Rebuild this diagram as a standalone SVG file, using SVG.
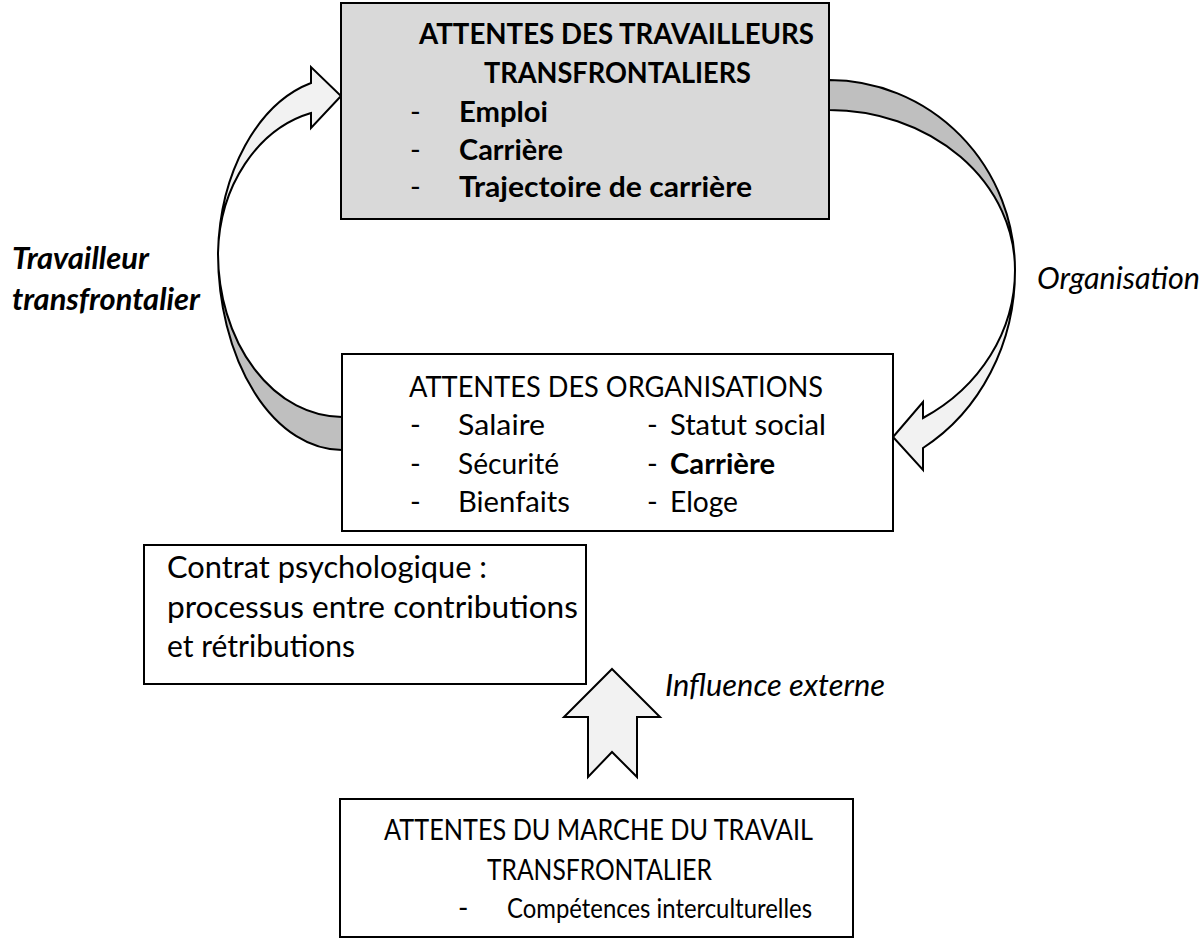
<svg xmlns="http://www.w3.org/2000/svg" width="1204" height="939" viewBox="0 0 1204 939">
<style>
.box{stroke:#000;stroke-width:2;fill:#fff}
.gray{fill:#d9d9d9}
.light{fill:#f2f2f2;stroke:#000;stroke-width:2;stroke-linejoin:miter}
.dark{fill:#bfbfbf;stroke:#000;stroke-width:2}
text{font-family:Lato,"Open Sans","Liberation Sans",sans-serif;fill:#000}
.t{font-size:29px;font-weight:bold}
.o{font-size:29px}
.c{font-size:31px}
.k{font-size:28px}
.lab{font-size:30px;font-style:italic}
.b{font-weight:bold}
</style>
<rect width="1204" height="939" fill="#fff"/>
<g id="connectors">
  <g id="arrow-travailleur">
    <path class="dark" d="M218,253 A124,197 0 0 0 342,450 L342,417 A124,164 0 0 1 218,253 Z"/>
    <path class="light" d="M218,253 A125,182 0 0 1 311,83 L311,67 L341,96 L311,128 L311,113 A122,148 0 0 0 218,253 Z"/>
  </g>
  <g id="arrow-organisation">
    <path class="dark" d="M829,80 A186,190 0 0 1 1015,270 A186,160 0 0 0 829,110 Z"/>
    <path class="light" d="M1015,270 A186,205 0 0 1 923,448 L923,470 L893,437 L923,402 L923,418 A186,171 0 0 0 1015,270 Z"/>
  </g>
  <g id="arrow-influence">
    <path class="light" d="M612,669 L660,717 L637,717 L637,777 L612,752 L588,777 L588,717 L564,717 Z"/>
  </g>
</g>
<g id="node-travailleurs" class="t">
  <rect class="box gray" x="341" y="3" width="488" height="216"/>
  <text x="419" y="44" textLength="395" lengthAdjust="spacingAndGlyphs">ATTENTES DES TRAVAILLEURS</text>
  <text x="484" y="83" textLength="267" lengthAdjust="spacingAndGlyphs">TRANSFRONTALIERS</text>
  <text x="410" y="122" font-weight="normal">-</text><text x="459" y="122" textLength="89" lengthAdjust="spacingAndGlyphs">Emploi</text>
  <text x="410" y="160" font-weight="normal">-</text><text x="459" y="160" textLength="104" lengthAdjust="spacingAndGlyphs">Carrière</text>
  <text x="410" y="197" font-weight="normal">-</text><text x="459" y="197" textLength="293" lengthAdjust="spacingAndGlyphs">Trajectoire de carrière</text>
</g>
<g id="node-organisations" class="o">
  <rect class="box" x="342" y="354" width="551" height="177"/>
  <text x="409" y="397" textLength="414" lengthAdjust="spacingAndGlyphs">ATTENTES DES ORGANISATIONS</text>
  <text x="410" y="435">-</text><text x="458" y="435" textLength="87" lengthAdjust="spacingAndGlyphs">Salaire</text>
  <text x="410" y="474">-</text><text x="458" y="474" textLength="101" lengthAdjust="spacingAndGlyphs">Sécurité</text>
  <text x="410" y="512">-</text><text x="458" y="512" textLength="112" lengthAdjust="spacingAndGlyphs">Bienfaits</text>
  <text x="647" y="435">-</text><text x="670" y="435" textLength="156" lengthAdjust="spacingAndGlyphs">Statut social</text>
  <text x="647" y="474">-</text><text class="b" x="670" y="474" textLength="105" lengthAdjust="spacingAndGlyphs">Carrière</text>
  <text x="647" y="512">-</text><text x="670" y="512" textLength="68" lengthAdjust="spacingAndGlyphs">Eloge</text>
</g>
<g id="node-contrat" class="c">
  <rect class="box" x="144" y="545" width="442" height="139"/>
  <text x="167" y="578" textLength="320" lengthAdjust="spacingAndGlyphs">Contrat psychologique :</text>
  <text x="167" y="618" textLength="411" lengthAdjust="spacingAndGlyphs">processus entre contributions</text>
  <text x="167" y="657" textLength="188" lengthAdjust="spacingAndGlyphs">et rétributions</text>
</g>
<g id="node-marche" class="k">
  <rect class="box" x="340" y="799" width="513" height="138"/>
  <text x="384" y="840" textLength="429" lengthAdjust="spacingAndGlyphs">ATTENTES DU MARCHE DU TRAVAIL</text>
  <text x="487" y="880" textLength="225" lengthAdjust="spacingAndGlyphs">TRANSFRONTALIER</text>
  <text x="458" y="918">-</text><text x="507" y="918" font-size="27" textLength="305" lengthAdjust="spacingAndGlyphs">Compétences interculturelles</text>
</g>
<g id="labels" class="lab">
  <text class="b" x="12" y="269" textLength="137" lengthAdjust="spacingAndGlyphs">Travailleur</text>
  <text class="b" x="12" y="310" textLength="188" lengthAdjust="spacingAndGlyphs">transfrontalier</text>
  <text x="1037" y="289" textLength="163" lengthAdjust="spacingAndGlyphs">Organisation</text>
  <text x="665" y="696" textLength="220" lengthAdjust="spacingAndGlyphs">Influence externe</text>
</g>
</svg>
